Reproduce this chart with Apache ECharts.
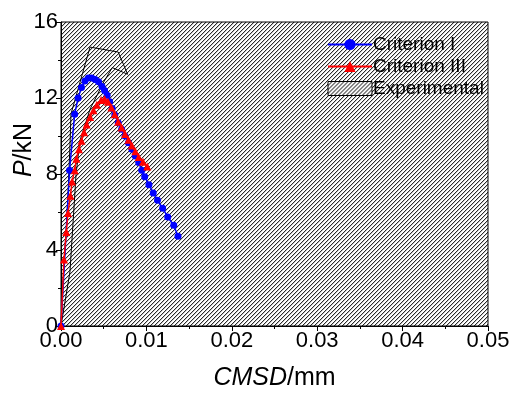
<!DOCTYPE html>
<html>
<head>
<meta charset="utf-8">
<script src="https://cdn.jsdelivr.net/npm/echarts@6/dist/echarts.min.js"></script>
<style>
  html, body { margin: 0; padding: 0; background: #fff; }
  #chart { width: 513px; height: 396px; }
</style>
</head>
<body>
<div id="chart"></div>
<script>
// Load (kN) versus crack mouth sliding displacement CMSD (mm)
const criterionI = [
  [0, 0], [0.001, 8.2], [0.0016, 11.15], [0.002, 12.0], [0.0024, 12.55],
  [0.0028, 12.9], [0.0032, 13.05], [0.0036, 13.05], [0.004, 12.98],
  [0.0044, 12.85], [0.0048, 12.6], [0.0051, 12.4], [0.0054, 12.15],
  [0.0057, 11.8], [0.006, 11.45], [0.0063, 11.1], [0.0067, 10.7],
  [0.0071, 10.35], [0.0075, 10.0], [0.0079, 9.65], [0.0083, 9.3],
  [0.0087, 8.95], [0.0091, 8.6], [0.00945, 8.2], [0.0098, 7.86],
  [0.0103, 7.44], [0.0108, 7.0], [0.0113, 6.62], [0.0119, 6.2],
  [0.0125, 5.74], [0.0132, 5.3], [0.0137, 4.72]
];

const criterionIII = [
  [0, 0], [0.00035, 3.5], [0.00062, 4.95], [0.00082, 5.95], [0.0011, 6.85],
  [0.0013, 7.6], [0.0016, 8.2], [0.0018, 8.8], [0.0021, 9.3], [0.0024, 9.75],
  [0.0027, 10.2], [0.003, 10.6], [0.0034, 11.0], [0.0038, 11.35],
  [0.0042, 11.65], [0.0047, 11.9], [0.0051, 11.95], [0.0055, 11.8],
  [0.0059, 11.5], [0.0063, 11.15], [0.0067, 10.75], [0.0071, 10.45],
  [0.0075, 10.1], [0.0079, 9.8], [0.0083, 9.5], [0.0087, 9.2],
  [0.0091, 8.9], [0.0096, 8.65], [0.0101, 8.4]
];

// Outline of the experimental scatter band (closed loop)
const experimental = [
  [0, 0], [0.00023, 2.34], [0.00059, 4.89], [0.00082, 6.93], [0.00105, 9.48],
  [0.00117, 11.16], [0.0034, 14.68], [0.0067, 14.42], [0.0078, 13.25],
  [0.006, 13.6], [0.005, 12.84], [0.0034, 11.41], [0.0022, 9.73],
  [0.00176, 7.95], [0.00105, 2.85], [0, 0]
];

const xTicks = { min: 0, max: 0.05, interval: 0.01 };
const yTicks = { min: 0, max: 16, interval: 4 };

// Diagonal hatch tile used for the plot background and the legend swatch
function makeHatch() {
  const c = document.createElement('canvas');
  c.width = 4; c.height = 4;
  const g = c.getContext('2d');
  g.fillStyle = '#fff';
  g.fillRect(0, 0, 4, 4);
  for (let x = 0; x < 4; x++) {
    for (let y = 0; y < 4; y++) {
      const k = (x + y) % 4;
      if (k === 3) { g.fillStyle = '#2a2a2a'; g.fillRect(x, y, 1, 1); }
      else if (k === 0) { g.fillStyle = '#c8c8c8'; g.fillRect(x, y, 1, 1); }
    }
  }
  return { image: c, repeat: 'repeat' };
}
const hatch = makeHatch();

const FONT = '"Liberation Sans", Arial, sans-serif';

const chart = echarts.init(document.getElementById('chart'), null, { renderer: 'canvas' });

chart.setOption({
  animation: false,
  grid: {
    left: 61, right: 25, top: 22, bottom: 60,
    show: true,
    backgroundColor: hatch,
    borderColor: '#000',
    borderWidth: 1
  },
  legend: {
    left: 322, top: 30,
    orient: 'vertical',
    itemWidth: 44, itemHeight: 14,
    itemGap: 3,
    textStyle: { fontFamily: FONT, fontSize: 19, color: '#000', padding: [0, 0, 0, -4] },
    data: [
      { name: 'Criterion I', itemStyle: { color: '#0000ff' } },
      { name: 'Criterion III', itemStyle: { color: '#ff0000' } },
      { name: 'Experimental', icon: 'rect',
        itemStyle: { color: hatch, borderColor: '#000', borderWidth: 1 } }
    ]
  },
  xAxis: {
    type: 'value',
    min: xTicks.min, max: xTicks.max, interval: xTicks.interval,
    axisLine: { show: true, lineStyle: { color: '#000', width: 1 } },
    axisTick: { show: true, length: 5, lineStyle: { color: '#000' } },
    minorTick: { show: true, splitNumber: 2, length: 3, lineStyle: { color: '#000' } },
    splitLine: { show: false },
    axisLabel: {
      fontFamily: FONT, fontSize: 22, color: '#000', margin: 4,
      formatter: v => v.toFixed(2)
    },
    name: '{i|CMSD}{n|/mm}',
    nameLocation: 'middle',
    nameGap: 40,
    nameTextStyle: {
      rich: {
        i: { fontFamily: FONT, fontSize: 25, fontStyle: 'italic', color: '#000' },
        n: { fontFamily: FONT, fontSize: 25, color: '#000' }
      }
    }
  },
  yAxis: {
    type: 'value',
    min: yTicks.min, max: yTicks.max, interval: yTicks.interval,
    axisLine: { show: true, lineStyle: { color: '#000', width: 1 } },
    axisTick: { show: true, length: 5, lineStyle: { color: '#000' } },
    minorTick: { show: true, splitNumber: 2, length: 3, lineStyle: { color: '#000' } },
    splitLine: { show: false },
    axisLabel: { fontFamily: FONT, fontSize: 22, color: '#000', margin: 3 }
  },
  graphic: [{
    type: 'text',
    x: 24, y: 150,
    rotation: Math.PI / 2,
    style: {
      text: '{i|P}{n|/kN}',
      align: 'center', verticalAlign: 'middle',
      rich: {
        i: { fontFamily: FONT, fontSize: 25, fontStyle: 'italic', fill: '#000' },
        n: { fontFamily: FONT, fontSize: 25, fill: '#000' }
      }
    }
  }],
  series: [
    {
      name: 'Experimental',
      type: 'line',
      data: experimental,
      showSymbol: false,
      symbol: 'none',
      silent: true,
      itemStyle: { color: hatch, borderColor: '#000' },
      lineStyle: { color: '#000', width: 1 },
      z: 2
    },
    {
      name: 'Criterion I',
      type: 'line',
      data: criterionI,
      symbol: 'circle',
      symbolSize: 7,
      itemStyle: { color: '#0000ff' },
      lineStyle: { color: '#0000ff', width: 1.5 },
      z: 3
    },
    {
      name: 'Criterion III',
      type: 'line',
      data: criterionIII,
      symbol: 'triangle',
      symbolSize: 8,
      itemStyle: { color: '#ff0000' },
      lineStyle: { color: '#ff0000', width: 1.5 },
      z: 4
    }
  ]
});
</script>
</body>
</html>
